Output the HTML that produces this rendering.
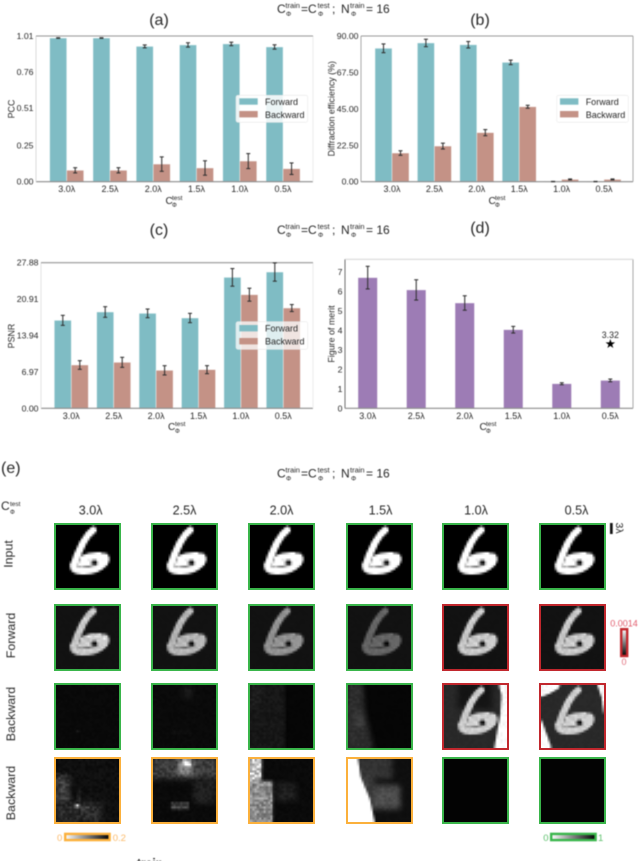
<!DOCTYPE html>
<html lang="en">
<head>
<meta charset="utf-8">
<title>Diffractive network performance figure</title>
<style>
html,body{margin:0;padding:0;background:#fff;}
#page{position:relative;width:640px;height:861px;overflow:hidden;background:#fff;font-family:"Liberation Sans",sans-serif;}
#figure{position:absolute;left:0;top:0;filter:blur(0.4px);}
#figure text{font-family:"Liberation Sans",sans-serif;fill:#262626;}
canvas.tile{position:absolute;box-sizing:border-box;width:67px;height:67px;border:2.5px solid #39b54a;filter:blur(0.25px);}
</style>
</head>
<body>
<div id="page">
<svg id="figure" width="640" height="861" viewBox="0 0 640 861" xmlns="http://www.w3.org/2000/svg">
  <defs>
    <linearGradient id="gradV" x1="0" y1="0" x2="0" y2="1"><stop offset="0" stop-color="#fff"/><stop offset="1" stop-color="#000"/></linearGradient>
    <linearGradient id="gradH" x1="0" y1="0" x2="1" y2="0"><stop offset="0" stop-color="#fff"/><stop offset="1" stop-color="#000"/></linearGradient>
  </defs>

  <g font-size="16">
    <text x="159" y="25" text-anchor="middle">(a)</text>
    <text x="480" y="25" text-anchor="middle">(b)</text>
    <text x="159" y="235" text-anchor="middle">(c)</text>
    <text x="480" y="233" text-anchor="middle">(d)</text>
    <text x="1" y="473">(e)</text>
  </g>

  <g transform="translate(277,13)">
    <text font-size="12" x="0" y="0">C</text><text font-size="7.5" x="8.4" y="-5">train</text><text font-size="6.5" x="9" y="3">Φ</text>
    <text font-size="12" x="24" y="0">=C</text><text font-size="7.5" x="40.5" y="-5">test</text><text font-size="6.5" x="41" y="3">Φ</text>
    <text font-size="12" x="55" y="0">;</text>
    <text font-size="12" x="64" y="0">N</text><text font-size="7.5" x="73" y="-5">train</text><text font-size="6.5" x="74" y="3">Φ</text>
    <text font-size="12" x="89" y="0">= 16</text>
  </g>
  <g transform="translate(277,234)">
    <text font-size="12" x="0" y="0">C</text><text font-size="7.5" x="8.4" y="-5">train</text><text font-size="6.5" x="9" y="3">Φ</text>
    <text font-size="12" x="24" y="0">=C</text><text font-size="7.5" x="40.5" y="-5">test</text><text font-size="6.5" x="41" y="3">Φ</text>
    <text font-size="12" x="55" y="0">;</text>
    <text font-size="12" x="64" y="0">N</text><text font-size="7.5" x="73" y="-5">train</text><text font-size="6.5" x="74" y="3">Φ</text>
    <text font-size="12" x="89" y="0">= 16</text>
  </g>
  <g transform="translate(277,477.5)">
    <text font-size="12" x="0" y="0">C</text><text font-size="7.5" x="8.4" y="-5">train</text><text font-size="6.5" x="9" y="3">Φ</text>
    <text font-size="12" x="24" y="0">=C</text><text font-size="7.5" x="40.5" y="-5">test</text><text font-size="6.5" x="41" y="3">Φ</text>
    <text font-size="12" x="55" y="0">;</text>
    <text font-size="12" x="64" y="0">N</text><text font-size="7.5" x="73" y="-5">train</text><text font-size="6.5" x="74" y="3">Φ</text>
    <text font-size="12" x="89" y="0">= 16</text>
  </g>

  <g id="chart-a"></g>
  <g id="chart-b"></g>
  <g id="chart-c"></g>
  <g id="chart-d"></g>

  <g font-size="8.9">
    <text transform="translate(14.5,109) rotate(-90)" text-anchor="middle">PCC</text>
    <text transform="translate(334.5,108.7) rotate(-90)" text-anchor="middle">Diffraction efficiency (%)</text>
    <text transform="translate(14.5,336) rotate(-90)" text-anchor="middle">PSNR</text>
    <text transform="translate(334.5,334) rotate(-90)" text-anchor="middle">Figure of merit</text>
  </g>

  <g><text font-size="10" x="165.5" y="204">C</text><text font-size="6.5" x="172" y="200">test</text><text font-size="6" x="172" y="207">Φ</text></g>
  <g><text font-size="10" x="488.5" y="204">C</text><text font-size="6.5" x="495" y="200">test</text><text font-size="6" x="495" y="207">Φ</text></g>
  <g><text font-size="10" x="168" y="430">C</text><text font-size="6.5" x="175" y="426">test</text><text font-size="6" x="175" y="433">Φ</text></g>
  <g><text font-size="10" x="479.5" y="430">C</text><text font-size="6.5" x="486" y="426">test</text><text font-size="6" x="486" y="433">Φ</text></g>

  <g>
    <rect x="236" y="95.3" width="71.7" height="27" rx="2" fill="#fff" fill-opacity="0.85" stroke="#e8e8e8" stroke-width="0.6"/>
    <rect x="239.3" y="98.3" width="18.4" height="6.4" fill="#7fbcc4"/>
    <rect x="239.3" y="111" width="18.4" height="6.4" fill="#c49286"/>
    <text x="265" y="105" font-size="9">Forward</text>
    <text x="265" y="118" font-size="9">Backward</text>
  </g>
  <g>
    <rect x="556.7" y="95.3" width="71.7" height="27" rx="2" fill="#fff" fill-opacity="0.85" stroke="#e8e8e8" stroke-width="0.6"/>
    <rect x="560" y="98.3" width="18.4" height="6.4" fill="#7fbcc4"/>
    <rect x="560" y="111" width="18.4" height="6.4" fill="#c49286"/>
    <text x="585.7" y="105" font-size="9">Forward</text>
    <text x="585.7" y="118" font-size="9">Backward</text>
  </g>
  <g>
    <rect x="236" y="321.7" width="71.7" height="27.6" rx="2" fill="#fff" fill-opacity="0.75" stroke="#e8e8e8" stroke-width="0.6"/>
    <rect x="239.3" y="325" width="18.4" height="6.4" fill="#7fbcc4"/>
    <rect x="239.3" y="338" width="18.4" height="6.4" fill="#c49286"/>
    <text x="265" y="331.5" font-size="9">Forward</text>
    <text x="265" y="344.5" font-size="9">Backward</text>
  </g>

  <text x="1" y="510" font-size="12">C</text>
  <text x="10" y="506" font-size="6.5">test</text>
  <text x="10" y="514" font-size="6">Φ</text>

  <g font-size="12.6" text-anchor="middle">
    <text x="90.7" y="514.5">3.0λ</text>
    <text x="184.5" y="514.5">2.5λ</text>
    <text x="281.5" y="514.5">2.0λ</text>
    <text x="380.5" y="514.5">1.5λ</text>
    <text x="476" y="514.5">1.0λ</text>
    <text x="576.5" y="514.5">0.5λ</text>
  </g>
  <g font-size="12.4" text-anchor="middle">
    <text transform="translate(12.5,554) rotate(-90)">Input</text>
    <text transform="translate(15,635.5) rotate(-90)">Forward</text>
    <text transform="translate(15,714) rotate(-90)">Backward</text>
    <text transform="translate(15,793) rotate(-90)">Backward</text>
  </g>

  <rect x="610" y="523" width="2.7" height="11" fill="#111"/>
  <text transform="translate(616,522.5) rotate(90)" font-size="10.5">3λ</text>

  <g>
    <rect x="621.2" y="629.2" width="6" height="26.8" fill="url(#gradV)" stroke="#c1272d" stroke-width="2.4"/>
    <text x="624" y="626.5" font-size="9" text-anchor="middle" style="fill:#e0596a">0.0014</text>
    <text x="624" y="665" font-size="9" text-anchor="middle" style="fill:#e0707e">0</text>
  </g>
  <g>
    <rect x="65.2" y="833.9" width="44.4" height="6.2" fill="url(#gradH)" stroke="#fbb03b" stroke-width="2.4"/>
    <text x="57" y="841" font-size="9.5" style="fill:#fbb967">0</text>
    <text x="112.7" y="841" font-size="9.5" style="fill:#fbb967">0.2</text>
  </g>
  <g>
    <rect x="551.2" y="833.9" width="44.4" height="6.2" fill="url(#gradH)" stroke="#39b54a" stroke-width="2.4"/>
    <text x="543.3" y="841" font-size="9.5" style="fill:#5cc06b">0</text>
    <text x="598" y="841" font-size="9.5" style="fill:#5cc06b">1</text>
  </g>

  <text x="137" y="867" font-size="12" font-weight="bold" style="fill:#111">train</text>
</svg>
</div>

<script>
// ---------- chart data ----------
var categories = ['3.0λ', '2.5λ', '2.0λ', '1.5λ', '1.0λ', '0.5λ'];

var pccForward = [0.996, 0.996, 0.938, 0.948, 0.955, 0.934];
var pccForwardErr = [0.002, 0.002, 0.01, 0.015, 0.012, 0.015];
var pccBackward = [0.079, 0.079, 0.122, 0.095, 0.143, 0.09];
var pccBackwardErr = [0.018, 0.018, 0.05, 0.05, 0.052, 0.04];
var pccTicks = [0, 0.25, 0.51, 0.76, 1.01];
var pccTickLabels = ['0.00', '0.25', '0.51', '0.76', '1.01'];

var effForward = [82.4, 85.7, 84.6, 73.7, 0.1, 0.1];
var effForwardErr = [2.7, 2.3, 2, 1.4, 0.1, 0.1];
var effBackward = [17.7, 22, 30.3, 46.3, 1.4, 1.4];
var effBackwardErr = [1.4, 1.8, 1.9, 0.9, 0.3, 0.3];
var effTicks = [0, 22.5, 45, 67.5, 90];
var effTickLabels = ['0.00', '22.50', '45.00', '67.50', '90.00'];

var psnrForward = [16.84, 18.44, 18.18, 17.29, 25.07, 26.09];
var psnrForwardErr = [0.96, 1.02, 0.83, 0.89, 1.69, 1.75];
var psnrBackward = [8.29, 8.8, 7.27, 7.4, 21.75, 19.2];
var psnrBackwardErr = [0.83, 0.96, 0.89, 0.77, 1.24, 0.67];
var psnrTicks = [0, 6.97, 13.94, 20.91, 27.88];
var psnrTickLabels = ['0.00', '6.97', '13.94', '20.91', '27.88'];

var meritValues = [6.7, 6.07, 5.4, 4.03, 1.26, 1.43];
var meritErr = [0.58, 0.52, 0.37, 0.17, 0.05, 0.07];
var meritTicks = [0, 1, 2, 3, 4, 5, 6, 7];
var meritTickLabels = ['0', '1', '2', '3', '4', '5', '6', '7'];
var meritStarValue = 3.32;
var meritStarLabel = '3.32';

// ---------- helpers ----------
var SVGNS = 'http://www.w3.org/2000/svg';
function mk(parent, tag, attrs) {
  var el = document.createElementNS(SVGNS, tag);
  for (var k in attrs) el.setAttribute(k, attrs[k]);
  parent.appendChild(el);
  return el;
}
function linearY(top, bottom, max) {
  return function (v) { return bottom - (v / max) * (bottom - top); };
}
function bandX(first, step) {
  return function (i) { return first + i * step; };
}
function drawBar(g, x, w, yTop, yBase, fill) {
  var el = mk(g, 'rect', { x: x, y: yTop, width: w, height: Math.max(yBase - yTop, 0), fill: fill, stroke: '#fff', 'stroke-opacity': 0.55, 'stroke-width': 0.7 });
  
  
}
function drawError(g, cx, yHi, yLo) {
  var s = mk(g, 'g', { stroke: '#2e2e2e', 'stroke-width': 1.1, 'stroke-opacity': 0.95 });
  
  
  mk(s, 'line', { x1: cx, x2: cx, y1: yHi, y2: yLo });
  mk(s, 'line', { x1: cx - 2, x2: cx + 2, y1: yHi, y2: yHi });
  mk(s, 'line', { x1: cx - 2, x2: cx + 2, y1: yLo, y2: yLo });
}
function drawFrame(g, box, xOf, y, ticks, labels, leftColor, rightColor, topColor) {
  var bottom = mk(g, 'line', { x1: box.l, x2: box.r, y1: box.b, y2: box.b, stroke: '#8a8a8a', 'stroke-width': 1.1 });
  
  
  var left = mk(g, 'line', { x1: box.l, x2: box.l, y1: box.t, y2: box.b, stroke: leftColor, 'stroke-width': 1 });
  
  
  var right = mk(g, 'line', { x1: box.r, x2: box.r, y1: box.t, y2: box.b, stroke: rightColor, 'stroke-width': 1 });
  
  
  var top = mk(g, 'line', { x1: box.l, x2: box.r, y1: box.t, y2: box.t, stroke: topColor, 'stroke-width': 1.1 });
  
  
  ticks.forEach(function (t, i) {
    var lab = mk(g, 'text', { x: box.l - 2.5, y: y(t) + 3, 'font-size': 8.7, 'text-anchor': 'end' });
    
    
    lab.textContent = labels[i];
  });
  categories.forEach(function (c, i) {
    var lab = mk(g, 'text', { x: xOf(i), y: box.b + 10.5, 'font-size': 9, 'text-anchor': 'middle' });
    
    
    lab.textContent = c;
  });
}
function groupedChart(id, box, first, step, max, fwd, fwdErr, bwd, bwdErr, ticks, labels, leftColor, rightColor, topColor) {
  var g = document.getElementById(id);
  var y = linearY(box.t, box.b, max);
  var xOf = bandX(first, step);
  categories.forEach(function (c, i) {
    drawBar(g, xOf(i) - 17, 17, y(fwd[i]), box.b, '#7fbcc4');
    drawBar(g, xOf(i), 17, y(bwd[i]), box.b, '#c49286');
  });
  drawFrame(g, box, xOf, y, ticks, labels, leftColor, rightColor, topColor);
  categories.forEach(function (c, i) {
    drawError(g, xOf(i) - 8.5, y(fwd[i] + fwdErr[i]), y(fwd[i] - fwdErr[i]));
    drawError(g, xOf(i) + 8.5, y(bwd[i] + bwdErr[i]), y(bwd[i] - bwdErr[i]));
  });
}

groupedChart('chart-a', { l: 36, r: 313, t: 36, b: 181.7 }, 66.7, 43.27, 1.01, pccForward, pccForwardErr, pccBackward, pccBackwardErr, pccTicks, pccTickLabels, '#dcdcdc', '#ececec', '#949494');
groupedChart('chart-b', { l: 361, r: 633, t: 36, b: 181.7 }, 392, 42.4, 90, effForward, effForwardErr, effBackward, effBackwardErr, effTicks, effTickLabels, '#a8a8a8', '#a8a8a8', '#989898');
groupedChart('chart-c', { l: 41, r: 313, t: 262.7, b: 408.3 }, 71.3, 42.4, 27.88, psnrForward, psnrForwardErr, psnrBackward, psnrBackwardErr, psnrTicks, psnrTickLabels, '#e4e4e4', '#ececec', '#949494');

(function () {
  var g = document.getElementById('chart-d');
  var box = { l: 345, r: 633, t: 259.3, b: 408.3 };
  var y = linearY(box.t, box.b, 7.64);
  var xOf = bandX(367.7, 48.52);
  categories.forEach(function (c, i) {
    drawBar(g, xOf(i) - 9.7, 19.4, y(meritValues[i]), box.b, '#9d7cb5');
  });
  drawFrame(g, box, xOf, y, meritTicks, meritTickLabels, '#6e6e6e', '#a8a8a8', '#d8d8d8');
  categories.forEach(function (c, i) {
    drawError(g, xOf(i), y(meritValues[i] + meritErr[i]), y(meritValues[i] - meritErr[i]));
  });
  var sx = xOf(5), sy = y(meritStarValue);
  var star = mk(g, 'text', { x: sx, y: sy + 4.4, 'font-size': 12.5, 'text-anchor': 'middle' });
  
  
  star.style.fill = '#000';
  star.style.fontFamily = '"DejaVu Sans",sans-serif';
  star.textContent = '★';
  var lab = mk(g, 'text', { x: sx, y: sy - 5.5, 'font-size': 8.8, 'text-anchor': 'middle' });
  
  
  lab.textContent = meritStarLabel;
})();

// ---------- image tiles ----------
var page = document.getElementById('page');
var GREEN = '#39b54a', RED = '#c1272d', ORANGE = '#fbb03b';
var colLeft = [54, 151, 248.3, 345.7, 442.3, 539.3];
var rowTop = [523.3, 604.3, 682.7, 757.3];
var rowNames = ['input', 'forward', 'backward', 'backward-scaled'];
var colNames = ['3-0', '2-5', '2-0', '1-5', '1-0', '0-5'];
var borders = [
  [GREEN, GREEN, GREEN, GREEN, GREEN, GREEN],
  [GREEN, GREEN, GREEN, GREEN, RED, RED],
  [GREEN, GREEN, GREEN, GREEN, RED, RED],
  [ORANGE, ORANGE, ORANGE, ORANGE, GREEN, GREEN]
];
function gv(v) { var n = Math.round(v * 255); return 'rgb(' + n + ',' + n + ',' + n + ')'; }
function six(c, v, blur) {
  c.save();
  if (blur) c.filter = 'blur(' + blur + 'px)';
  c.strokeStyle = gv(v);
  c.lineCap = 'round';
  c.lineJoin = 'round';
  // stem
  c.lineWidth = 7;
  c.beginPath();
  c.moveTo(39, 7.5);
  c.bezierCurveTo(35, 10, 32, 14, 29, 20);
  c.bezierCurveTo(26, 26, 22, 35, 20, 42);
  c.stroke();
  // lower loop
  c.beginPath();
  c.moveTo(20, 42);
  c.bezierCurveTo(19, 47, 23, 47.5, 28, 47.5);
  c.bezierCurveTo(36, 48, 45, 45, 50, 40);
  c.bezierCurveTo(53, 36, 52, 32.5, 47, 32.5);
  c.bezierCurveTo(40, 32, 34, 32.5, 29, 36);
  c.stroke();
  // interior fill around the hole
  c.lineWidth = 6;
  c.beginPath();
  c.moveTo(27, 41);
  c.lineTo(46, 37);
  c.stroke();
  c.fillStyle = gv(v * 0.5);
  c.beginPath();
  c.arc(40, 39.5, 3.4, 0, Math.PI * 2);
  c.fill();
  c.fillStyle = '#000';
  c.beginPath();
  c.arc(40.5, 39.5, 2.1, 0, Math.PI * 2);
  c.fill();
  c.restore();
}
function box(c, x, y, w, h, v, blur) {
  c.save();
  if (blur) c.filter = 'blur(' + blur + 'px)';
  c.fillStyle = gv(v);
  c.fillRect(x, y, w, h);
  c.restore();
}
function poly(c, pts, v, blur) {
  c.save();
  if (blur) c.filter = 'blur(' + blur + 'px)';
  c.fillStyle = gv(v);
  c.beginPath();
  pts.forEach(function (p, i) { if (i) c.lineTo(p[0], p[1]); else c.moveTo(p[0], p[1]); });
  c.closePath();
  c.fill();
  c.restore();
}
// deterministic pixel grain for the reconstruction images (not chart data)
function grain(c, amt) {
  var im = c.getImageData(0, 0, 28, 28);
  for (var y = 0; y < 28; y++) for (var x = 0; x < 28; x++) {
    var h = Math.sin(x * 12.9898 + y * 78.233) * 43758.5453;
    h -= Math.floor(h);
    var f = 1 - amt + 2 * amt * h;
    var p = (y * 28 + x) * 4;
    var v = Math.min(255, im.data[p] * f);
    im.data[p] = v; im.data[p + 1] = v; im.data[p + 2] = v;
  }
  c.putImageData(im, 0, 0);
}
var forwardLevels = [0.8, 0.72, 0.58, 0.4, 0.8, 0.8];
function paint(c, r, i) {
  c.fillStyle = '#000';
  c.fillRect(0, 0, 70, 70);
  if (r === 0) { six(c, 1, 0); return; }
  if (r === 1) {
    box(c, 0, 0, 70, 70, 0.07);
    six(c, forwardLevels[i], 0.3);
    if (i === 0) [[33, 31], [37, 30], [41, 31], [45, 32], [49, 33]].forEach(function (p) { box(c, p[0], p[1], 2.2, 2.2, 1); });
    grain(c, 0.07);
    return;
  }
  if (r === 2) {
    if (i === 0) { box(c, 0, 0, 70, 70, 0.035); box(c, 22, 47, 4, 2, 0.1, 0.5); grain(c, 0.25); }
    if (i === 1) { box(c, 0, 0, 70, 70, 0.04); box(c, 32, 6, 9, 9, 0.13, 1); box(c, 20, 48, 20, 2, 0.08, 0.5); grain(c, 0.25); }
    if (i === 2) { box(c, 0, 0, 38, 70, 0.09, 1.2); box(c, 38, 0, 32, 70, 0.025); box(c, 2, 2, 12, 22, 0.12, 1); grain(c, 0.25); }
    if (i === 3) { box(c, 0, 0, 70, 70, 0.025); poly(c, [[0, 0], [17, 0], [19, 28], [28, 66], [0, 66]], 0.18, 0.8); box(c, 10, 30, 8, 14, 0.24, 1); grain(c, 0.15); }
    if (i === 4) {
      box(c, 0, 0, 70, 70, 0.16);
      box(c, 16, 0, 34, 26, 0.08, 0.8);
      six(c, 0.82, 0.25);
      poly(c, [[56, 0], [59, 13], [58, 30], [54, 53], [51, 70], [70, 70], [70, 0]], 1);
      grain(c, 0.06);
    }
    if (i === 5) {
      box(c, 0, 0, 70, 70, 0.16);
      six(c, 0.82, 0.25);
      poly(c, [[0, 0], [22, 0], [20, 6], [11, 11], [3, 14], [0, 16]], 1);
      poly(c, [[57, 0], [70, 0], [70, 30], [64, 30], [62, 14]], 1);
      poly(c, [[0, 37], [3, 37], [12, 62], [13, 70], [0, 70]], 1);
      grain(c, 0.06);
    }
    return;
  }
  if (i === 0) {
    box(c, 0, 0, 70, 70, 0.06);
    box(c, 2, 18, 14, 28, 0.24, 1);
    box(c, 2, 45, 46, 20, 0.17, 1);
    box(c, 24, 30, 2, 16, 0.18, 0.3);
    box(c, 21, 47.5, 5, 2.2, 0.9, 0.35);
    box(c, 28, 50, 7, 2, 0.45, 0.3);
    grain(c, 0.4);
  }
  if (i === 1) {
    box(c, 0, 0, 70, 70, 0.04);
    box(c, 0, 0, 68, 22, 0.24, 1);
    box(c, 42, 22, 22, 24, 0.13, 1);
    box(c, 28, 4, 13, 13, 0.6, 0.8);
    box(c, 32, 4, 7, 6, 1, 0.5);
    box(c, 20, 46, 18, 1.6, 0.5, 0.25);
    box(c, 20, 50, 18, 1.6, 0.55, 0.25);
    grain(c, 0.3);
  }
  if (i === 2) {
    box(c, 0, 0, 70, 70, 0.04);
    box(c, 28, 26, 20, 18, 0.12, 1.2);
    box(c, 0, 24, 25, 44, 0.55, 0.5);
    box(c, 0, 0, 14, 24, 0.82, 0.5);
    grain(c, 0.28);
  }
  if (i === 3) {
    box(c, 0, 0, 70, 70, 0.06);
    box(c, 12, 0, 34, 22, 0.2, 1.2);
    box(c, 24, 28, 30, 24, 0.3, 1.2);
    box(c, 14, 18, 14, 24, 0.24, 1.2);
    grain(c, 0.12);
    poly(c, [[0, 0], [12, 0], [15, 20], [24, 42], [30, 70], [0, 70]], 1, 0.25);
  }
  if (i >= 4) box(c, 0, 0, 70, 70, 0.012);
}
rowTop.forEach(function (top, r) {
  colLeft.forEach(function (left, i) {
    var cv = document.createElement('canvas');
    cv.className = 'tile';
    cv.width = 28;
    cv.height = 28;
    cv.style.left = left + 'px';
    cv.style.top = top + 'px';
    cv.style.borderColor = borders[r][i];
    
    
    page.appendChild(cv);
    var c = cv.getContext('2d', { willReadFrequently: true });
    var s = 28 / 62;
    c.setTransform(s, 0, 0, s, -2.5 * s, -2.5 * s);
    paint(c, r, i);
  });
});
</script>
</body>
</html>
